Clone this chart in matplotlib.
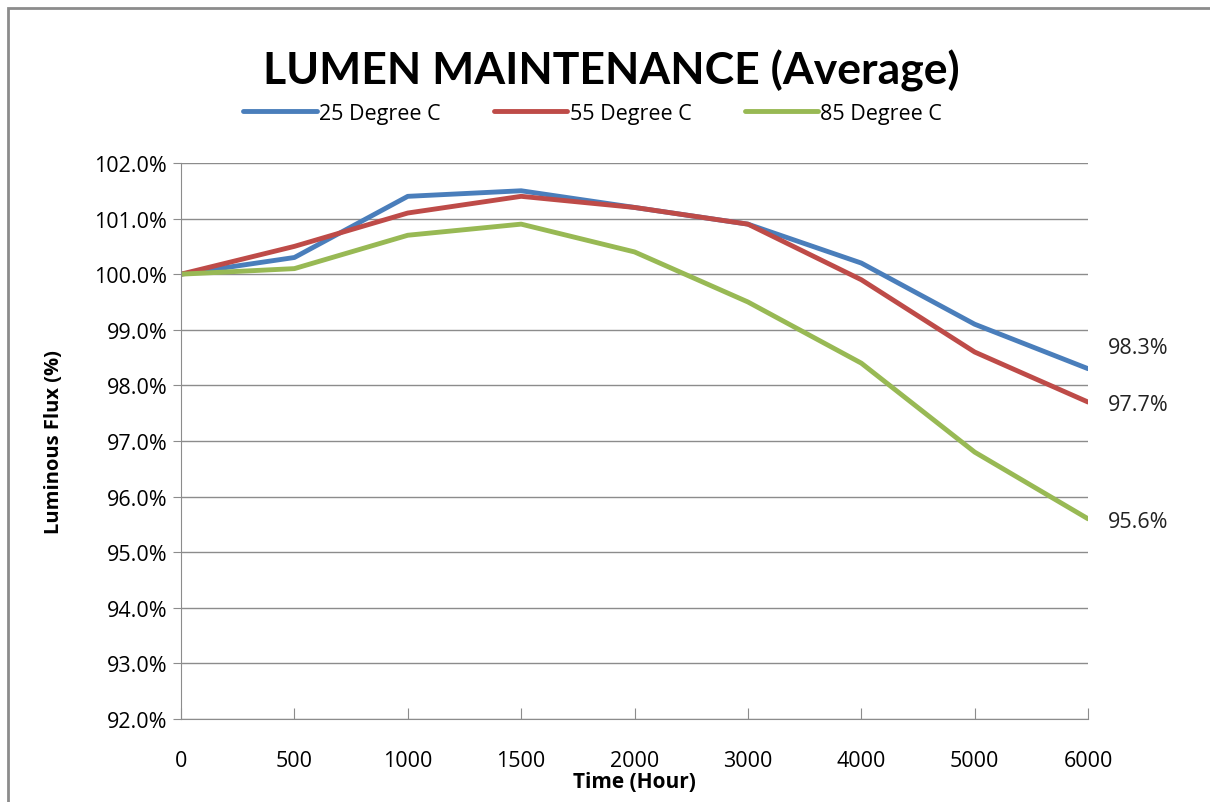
import matplotlib
matplotlib.use("Agg")
import matplotlib.pyplot as plt
from matplotlib.patches import Rectangle

hours = ["0", "500", "1000", "1500", "2000", "3000", "4000", "5000", "6000"]
deg25 = [100.0, 100.3, 101.4, 101.5, 101.2, 100.9, 100.2, 99.1, 98.3]
deg55 = [100.0, 100.5, 101.1, 101.4, 101.2, 100.9, 99.9, 98.6, 97.7]
deg85 = [100.0, 100.1, 100.7, 100.9, 100.4, 99.5, 98.4, 96.8, 95.6]

series = [("25 Degree C", deg25, "#4a7ebb", 'bottom', 8),
          ("55 Degree C", deg55, "#be4b48", 'center', -2),
          ("85 Degree C", deg85, "#98b954", 'center', -2)]

plt.rcParams['font.family'] = ['Open Sans', 'DejaVu Sans']

fig = plt.figure(figsize=(12.1, 8.03), dpi=100)
ax = fig.add_axes([0.1496, 0.1034, 0.7496, 0.6924])

x = list(range(len(hours)))
for name, vals, col, va, dy in series:
    ax.plot(x, vals, color=col, lw=3.5, label=name, solid_capstyle='round')
    ax.annotate(f"{vals[-1]:.1f}%", xy=(x[-1], vals[-1]), xytext=(14, dy),
                textcoords='offset points', fontsize=15.5, va=va,
                ha='left', color='#222222', annotation_clip=False)

ax.set_xlim(0, len(hours) - 1)
ax.set_ylim(92, 102)
ax.set_yticks(range(92, 103))
ax.set_yticklabels([f"{v:.1f}%" for v in range(92, 103)])
ax.set_xticks(x)
ax.set_xticklabels(hours)
ax.yaxis.grid(True, color='#8c8c8c', lw=1)
ax.set_axisbelow(True)
for s in ['top', 'right']:
    ax.spines[s].set_visible(False)
for s in ['left', 'bottom']:
    ax.spines[s].set_color('#8c8c8c')
ax.tick_params(axis='y', direction='out', length=6, color='#8c8c8c', labelsize=15.5, pad=4)
ax.tick_params(axis='x', direction='in', length=8, color='#8c8c8c', labelsize=15.5, pad=22)

ax.set_xlabel("Time (Hour)", fontsize=15, fontweight='bold', labelpad=0)
ax.set_ylabel("Luminous Flux (%)", fontsize=14.5, fontweight='bold', labelpad=22)

fig.text(0.505, 0.912, "LUMEN MAINTENANCE (Average)", ha='center', va='center',
         fontsize=32, fontweight='bold', family=['Lato', 'DejaVu Sans'])
fig.legend(loc='center', bbox_to_anchor=(0.49, 0.858), ncol=3, frameon=False,
           fontsize=15.5, handlelength=3.4, handletextpad=0.1, columnspacing=2.5)

fig.patches.append(Rectangle((8 / 1210, -0.05), 1.2, 1 - 9 / 803 + 0.05,
                             transform=fig.transFigure, fill=False,
                             edgecolor='#8c8c8c', lw=2))

fig.savefig("out.png", dpi=100)
